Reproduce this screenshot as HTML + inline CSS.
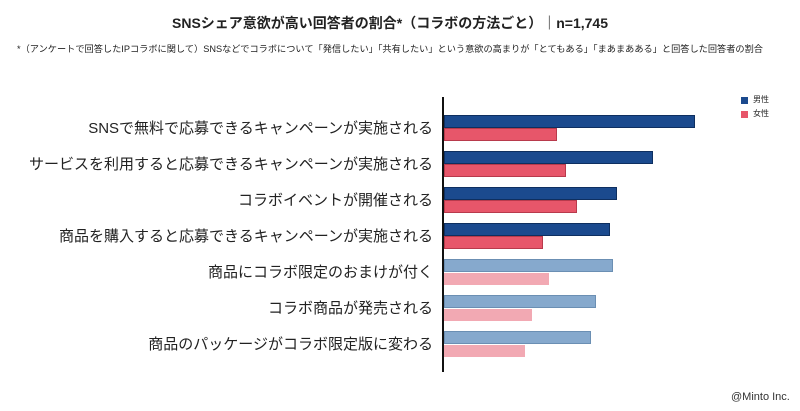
<!DOCTYPE html>
<html><head><meta charset="utf-8"><style>
body{margin:0;width:800px;height:411px;background:#fff;overflow:hidden;position:relative;font-family:"Liberation Sans","Noto Sans CJK JP",sans-serif;color:#222}
.t{position:absolute;left:-10px;width:800px;text-align:center;top:13px;font-size:14px;font-weight:bold}
.s{position:absolute;left:-10px;width:800px;text-align:center;top:41px;font-size:9.2px;white-space:nowrap}
.l{position:absolute;right:367px;font-size:15px;white-space:nowrap;line-height:18px}
.b{position:absolute;left:444px}
.m{background:#1b4a8e;border:1px solid #0e2f60;box-sizing:border-box}
.f{background:#e7566a;border:1px solid #b83a4c;box-sizing:border-box}
.lm{background:#86a9cd;border:1px solid #6b8fb3;box-sizing:border-box}
.lf{background:#f2a9b3}
</style></head><body>
<div class="t">SNSシェア意欲が高い回答者の割合*（コラボの方法ごと）｜n=1,745</div>
<div class="s">*（アンケートで回答したIPコラボに関して）SNSなどでコラボについて「発信したい」「共有したい」という意欲の高まりが「とてもある」「まあまあある」と回答した回答者の割合</div>
<div style="position:absolute;left:442px;top:97px;width:2px;height:275px;background:#111"></div>
<div class="l" style="top:120px">SNSで無料で応募できるキャンペーンが実施される</div>
<div class="l" style="top:156px">サービスを利用すると応募できるキャンペーンが実施される</div>
<div class="l" style="top:192px">コラボイベントが開催される</div>
<div class="l" style="top:228px">商品を購入すると応募できるキャンペーンが実施される</div>
<div class="l" style="top:264px">商品にコラボ限定のおまけが付く</div>
<div class="l" style="top:300px">コラボ商品が発売される</div>
<div class="l" style="top:336px">商品のパッケージがコラボ限定版に変わる</div>
<div class="b m" style="top:115px;width:251px;height:13px"></div>
<div class="b f" style="top:128px;width:113px;height:13px"></div>
<div class="b m" style="top:151px;width:209px;height:13px"></div>
<div class="b f" style="top:164px;width:122px;height:13px"></div>
<div class="b m" style="top:187px;width:173px;height:13px"></div>
<div class="b f" style="top:200px;width:133px;height:13px"></div>
<div class="b m" style="top:223px;width:166px;height:13px"></div>
<div class="b f" style="top:236px;width:99px;height:13px"></div>
<div class="b lm" style="top:259px;width:169px;height:13px"></div>
<div class="b lf" style="top:273px;width:105px;height:12px"></div>
<div class="b lm" style="top:295px;width:152px;height:13px"></div>
<div class="b lf" style="top:309px;width:88px;height:12px"></div>
<div class="b lm" style="top:331px;width:147px;height:13px"></div>
<div class="b lf" style="top:345px;width:81px;height:12px"></div>
<div style="position:absolute;left:741px;top:97px;width:7px;height:7px;background:#1b4a8e"></div>
<div style="position:absolute;left:753px;top:94px;font-size:8px">男性</div>
<div style="position:absolute;left:741px;top:111px;width:7px;height:7px;background:#e7566a"></div>
<div style="position:absolute;left:753px;top:108px;font-size:8px">女性</div>
<div style="position:absolute;left:731px;top:391px;font-size:11px;color:#333">@Minto Inc.</div>
</body></html>
